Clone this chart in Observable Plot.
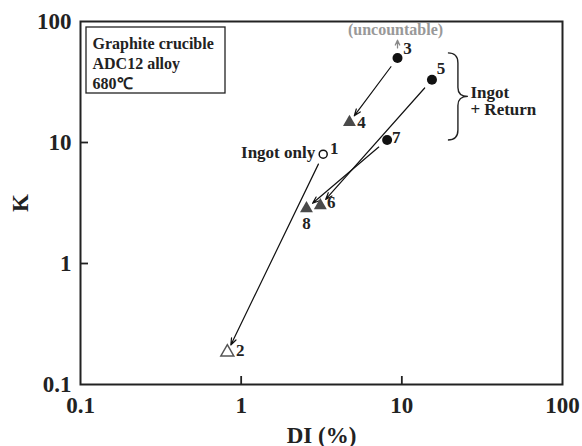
<!DOCTYPE html>
<html><head><meta charset="utf-8">
<script src="https://cdn.jsdelivr.net/npm/d3@7"></script>
<script src="https://cdn.jsdelivr.net/npm/@observablehq/plot@0.6"></script>
<style>body{margin:0;background:#fff}</style>
</head><body><div id="chart"></div>
<script>
// ---- data ----
const ids   = ["1", "2", "3", "4", "5", "6", "7", "8"];
const di    = [3.24, 0.82, 9.4, 4.72, 15.4, 3.11, 8.1, 2.55];   // DI (%)
const kVals = [8.0, 0.185, 50, 14.7, 33, 3.02, 10.5, 2.85];    // K
const group = ["Ingot only", "Ingot only", "Ingot + Return", "Ingot + Return",
               "Ingot + Return", "Ingot + Return", "Ingot + Return", "Ingot + Return"];
const stage = ["before", "after", "before", "after", "before", "after", "before", "after"];
const tickValues = [0.1, 1, 10, 100];
const tickLabels = ["0.1", "1", "10", "100"];
const innerTicks = [1, 10];
const legendLines = ["Graphite crucible", "ADC12 alloy", "680℃"];
const uncountableTop = 70;           // K value the "uncountable" arrow points to
const braceX = 22.5, braceK = [10.4, 54.5];

const pts = ids.map((id, i) => ({id, di: di[i], k: kVals[i], group: group[i], stage: stage[i]}));
const arrows = d3.range(0, pts.length, 2).map(i => ({x1: pts[i].di, y1: pts[i].k, x2: pts[i+1].di, y2: pts[i+1].k}));
const fmt = d => tickLabels[tickValues.indexOf(d)];

const labelOffsets = [[11,-6],[13,-2],[10,-9],[12,0],[9,-11],[11,-2.5],[9,-2],[0,15]];
const FONT = "Liberation Serif, Times New Roman, serif";
const SVGNS = "http://www.w3.org/2000/svg";

const numLabels = pts.map((p, i) => Plot.text([p], {x: "di", y: "k", text: "id", dx: labelOffsets[i][0], dy: labelOffsets[i][1],
  fontSize: 17, fontWeight: "bold", fill: "#222"}));

const chart = Plot.plot({
  width: 582, height: 446,
  marginLeft: 80, marginRight: 20, marginTop: 21, marginBottom: 62,
  style: {fontFamily: FONT, fontSize: "23px", fontWeight: "bold", color: "#222", background: "#fff"},
  x: {type: "log", domain: [0.1, 100]},
  y: {type: "log", domain: [0.1, 100]},
  marks: [
    Plot.axisX(tickValues, {tickSize: 0, tickPadding: 12, tickFormat: fmt, label: "DI (%)", labelAnchor: "center", labelArrow: "none", labelOffset: 58, fontSize: 23}),
    Plot.axisY(tickValues, {tickSize: 0, tickPadding: 9, tickFormat: fmt, label: "K", labelAnchor: "center", labelArrow: "none", labelOffset: 69, fontSize: 23}),
    Plot.frame({stroke: "#222", strokeWidth: 2}),
    // inward ticks at 1 and 10 on the bottom and left axes
    Plot.tickX(innerTicks, {x: d => d, insetTop: 355, stroke: "#222", strokeWidth: 1.8}),
    Plot.tickY(innerTicks, {y: d => d, insetRight: 474, stroke: "#222", strokeWidth: 1.8}),
    // legend box
    (index, scales, values, dims) => {
      const r = document.createElementNS(SVGNS, "rect");
      r.setAttribute("x", dims.marginLeft + 6); r.setAttribute("y", dims.marginTop + 6);
      r.setAttribute("width", 139); r.setAttribute("height", 66);
      r.setAttribute("fill", "none"); r.setAttribute("stroke", "#222"); r.setAttribute("stroke-width", 1.3);
      return r;
    },
    Plot.text([legendLines.join("\n")], {frameAnchor: "top-left", dx: 12, dy: 14, lineAnchor: "top", textAnchor: "start",
      lineHeight: 1.23, fontSize: 16, fontWeight: "bold", fill: "#222"}),
    // arrows
    Plot.arrow(arrows, {x1: "x1", y1: "y1", x2: "x2", y2: "y2", insetStart: 11, insetEnd: 8,
      headLength: 9, headAngle: 40, stroke: "#111", strokeWidth: 1.2}),
    Plot.arrow([pts[2]], {x1: "di", y1: "k", x2: "di", y2: () => uncountableTop, insetStart: 10,
      headLength: 6, headAngle: 50, stroke: "#888", strokeWidth: 1.3}),
    Plot.text([pts[2]], {x: "di", y: () => uncountableTop, text: () => "(uncountable)", dy: -10, dx: -2,
      fontSize: 16, fontWeight: "bold", fill: "#999"}),
    // points
    Plot.dot(pts.filter(p => p.group === "Ingot only" && p.stage === "before"), {x: "di", y: "k", symbol: "circle", r: 4, fill: "white", stroke: "#111", strokeWidth: 1.5}),
    Plot.dot(pts.filter(p => p.group === "Ingot only" && p.stage === "after"), {x: "di", y: "k", symbol: "triangle", r: 4.8, fill: "white", stroke: "#555", strokeWidth: 1.5}),
    Plot.dot(pts.filter(p => p.group !== "Ingot only" && p.stage === "before"), {x: "di", y: "k", symbol: "circle", r: 5, fill: "#111"}),
    Plot.dot(pts.filter(p => p.group !== "Ingot only" && p.stage === "after"), {x: "di", y: "k", symbol: "triangle", r: 4.8, fill: "#4a4a4a"}),
    ...numLabels,
    Plot.text([pts[0]], {x: "di", y: "k", text: () => "Ingot only", textAnchor: "end", dx: -8, dy: -2, fontSize: 17, fontWeight: "bold", fill: "#222"}),
    // brace
    (index, scales) => {
      const x0 = scales.x(braceX), yt = scales.y(braceK[1]), yb = scales.y(braceK[0]), ym = (yt + yb) / 2;
      const p = d3.path();
      p.moveTo(x0 - 10, yt); p.quadraticCurveTo(x0, yt, x0, yt + 10);
      p.lineTo(x0, ym - 9); p.quadraticCurveTo(x0, ym, x0 + 10, ym);
      p.quadraticCurveTo(x0, ym, x0, ym + 9);
      p.lineTo(x0, yb - 10); p.quadraticCurveTo(x0, yb, x0 - 10, yb);
      const el = document.createElementNS(SVGNS, "path");
      el.setAttribute("d", p.toString()); el.setAttribute("fill", "none");
      el.setAttribute("stroke", "#222"); el.setAttribute("stroke-width", 1.4);
      return el;
    },
    Plot.text(["Ingot\n+ Return"], {x: () => braceX, y: () => Math.sqrt(braceK[0] * braceK[1]), dx: 12, dy: 4,
      textAnchor: "start", lineHeight: 1.03, fontSize: 17, fontWeight: "bold", fill: "#222"})
  ]
});
document.getElementById("chart").appendChild(chart);
</script>
</body></html>
